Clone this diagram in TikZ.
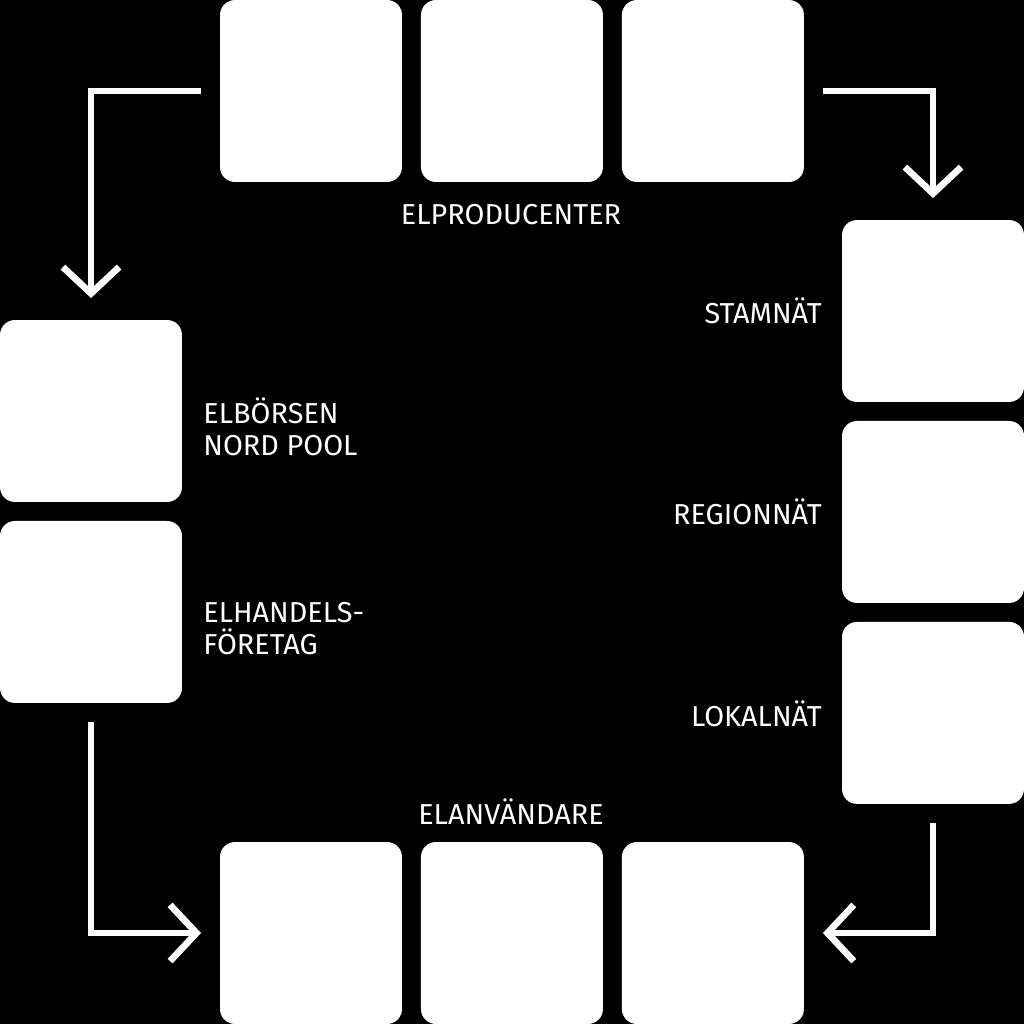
\documentclass[tikz,border=0pt]{standalone}
\usepackage{fontspec}
\setmainfont{Fira Sans}
\usetikzlibrary{arrows.meta, positioning}
\tikzset{
  every picture/.style={font=\fontsize{16.4}{18.1}\selectfont},
  tile/.style={fill=white, rounded corners=8.5pt, minimum size=3.64cm, inner sep=0pt, outer sep=0pt},
  flow/.style={draw=white, line width=3.8pt, line join=miter,
    -{Straight Barb[length=15pt, width=32pt, line join=miter]}, shorten <=0.38cm, shorten >=0.44cm},
  lbl/.style={text=white, inner sep=0pt, align=left},
}

\begin{document}
\begin{tikzpicture}[x=0.02cm, y=-0.02cm, node distance=0.38cm]
  \fill[black] (0,0) rectangle (1024,1024);
  \useasboundingbox (0,0) rectangle (1024,1024);
  % ---------- producers
  \node[tile] (p1) at (311,91) {};
  \node[tile, right=of p1] (p2) {};
  \node[tile, right=of p2] (p3) {};
  \node[lbl, anchor=base] (prod) at (511,224) {ELPRODUCENTER};
  % ---------- grids
  \node[tile] (stam) at (933,311) {};
  \node[tile, below=of stam] (region) {};
  \node[tile, below=of region] (lokal) {};
  \node[lbl, anchor=base east] (tstam) at (822,323) {STAMNÄT};
  \node[lbl, anchor=base east] (tregion) at (822,524) {REGIONNÄT};
  \node[lbl, anchor=base east] (tlokal) at (822,726) {LOKALNÄT};
  % ---------- market
  \node[tile] (boers) at (91,411) {};
  \node[tile, below=of boers] (handel) {};
  \node[lbl, anchor=base west] (tboers) at (203,455) {ELBÖRSEN\\NORD POOL};
  \node[lbl, anchor=base west] (thandel) at (203,654) {ELHANDELS-\\FÖRETAG};
  % ---------- users
  \node[tile] (a1) at (311,933) {};
  \node[tile, right=of a1] (a2) {};
  \node[tile, right=of a2] (a3) {};
  \node[lbl, anchor=base] (users) at (511,824) {ELANVÄNDARE};
  % ---------- flows
  \draw[flow] (p1.west) -| (boers.north);
  \draw[flow] (p3.east) -| (stam.north);
  \draw[flow, shorten >=0.38cm] (handel.south) |- (a1.west);
  \draw[flow, shorten >=0.38cm] (lokal.south) |- (a3.east);
\end{tikzpicture}
\end{document}
